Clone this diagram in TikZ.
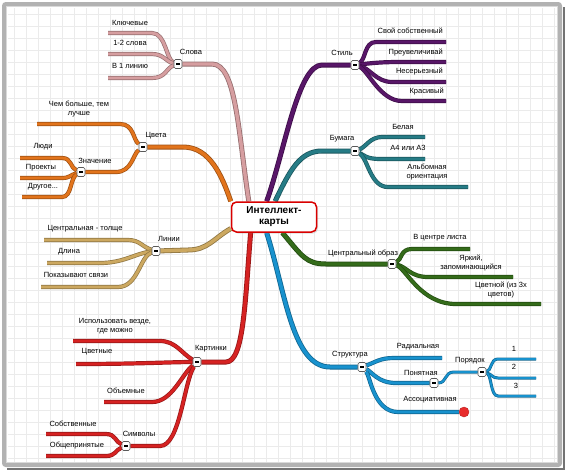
\documentclass[tikz,border=0pt]{standalone}
\usepackage{fontspec}
\setmainfont{Liberation Sans}
\usepackage{tikz}
\usetikzlibrary{shadows}
\usepackage{xcolor}
\definecolor{mmpink}{RGB}{214,158,160}
\definecolor{mmorange}{RGB}{226,116,28}
\definecolor{mmgold}{RGB}{204,168,96}
\definecolor{mmred}{RGB}{214,34,34}
\definecolor{mmpurple}{RGB}{88,22,104}
\definecolor{mmteal}{RGB}{38,124,134}
\definecolor{mmgreen}{RGB}{52,108,26}
\definecolor{mmblue}{RGB}{24,146,206}
\definecolor{mmdot}{RGB}{232,44,44}
\pgfdeclarelayer{grid}
\pgfdeclarelayer{bg}
\pgfsetlayers{grid,bg,main}
\tikzset{
  brmain/.style={draw=#1!70!black, double=#1, line width=0.8pt, double distance=3.4pt},
  brsub/.style={draw=#1!70!black, double=#1, line width=0.7pt, double distance=2.8pt},
  brthin/.style={draw=#1!70!black, double=#1, line width=0.6pt, double distance=1.8pt},
  jn/.style={rectangle, draw=gray!70!black, line width=0.6pt, fill=white, rounded corners=1.5pt, minimum width=8pt, minimum height=9pt, inner sep=0pt},
  lbl/.style={font=\fontsize{7.5}{8.5}\selectfont, text=black, inner sep=0pt, align=center},
  topic/.style={rectangle, rounded corners=5pt, draw=red!85!black, line width=1.5pt, fill=white, minimum width=85pt, minimum height=30pt, align=center, font=\bfseries\fontsize{10}{11}\selectfont, drop shadow={opacity=0.25, shadow xshift=1.5pt, shadow yshift=-1.5pt}}
}
\newcommand{\mns}{\rule{4pt}{1.5pt}}

\begin{document}
\begin{tikzpicture}[x=1pt, y=-1pt]
    \useasboundingbox (0,0) rectangle (567,472);

    % Central topic
    \node[topic] (ctr) at (274,217) {Интеллект-\\карты};

    % Слова
    \node[jn] (jslova) at (178,64) {\mns};
    \coordinate (ekl) at (108,33);
    \coordinate (e12) at (108,54);
    \coordinate (elin) at (108,78);
    \node[lbl] (lslova) at (191,52) {Слова};
    \node[lbl] (lkl) at (130,23) {Ключевые};
    \node[lbl] (l12) at (130,43) {1-2 слова};
    \node[lbl] (llin) at (130,66) {В 1 линию};

    % Цвета
    \node[jn] (jcveta) at (143,147) {\mns};
    \node[jn] (jznach) at (81,172) {\mns};
    \coordinate (echem) at (37,124);
    \coordinate (eludi) at (20,158);
    \coordinate (eproj) at (20,178);
    \coordinate (edrug) at (22,197);
    \node[lbl] (lcveta) at (156,136) {Цвета};
    \node[lbl] (lchem) at (79,109) {Чем больше, тем\\лучше};
    \node[lbl] (lznach) at (95,161) {Значение};
    \node[lbl] (lludi) at (43,147) {Люди};
    \node[lbl] (lproj) at (41,168) {Проекты};
    \node[lbl] (ldrug) at (43,187) {Другое...};

    % Линии
    \node[jn] (jlinii) at (156,251) {\mns};
    \coordinate (ecent) at (44,240);
    \coordinate (edlin) at (47,263);
    \coordinate (esvyaz) at (41,287);
    \node[lbl] (llinii) at (169,239) {Линии};
    \node[lbl] (lcent) at (85,229) {Центральная - толще};
    \node[lbl] (ldlin) at (69,252) {Длина};
    \node[lbl] (lsvyaz) at (76,275) {Показывают связи};

    % Картинки
    \node[jn] (jkart) at (197,362) {\mns};
    \node[jn] (jsimv) at (126,446) {\mns};
    \coordinate (eisp) at (73,341);
    \coordinate (ecvet) at (76,364);
    \coordinate (eob) at (104,402);
    \coordinate (esob) at (46,434);
    \coordinate (eobsh) at (46,456);
    \node[lbl] (lkart) at (211,349) {Картинки};
    \node[lbl] (lisp) at (115,326) {Использовать везде,\\где можно};
    \node[lbl] (lcvet) at (97,352) {Цветные};
    \node[lbl] (lob) at (126,391) {Объемные};
    \node[lbl] (lsimv) at (139,434) {Символы};
    \node[lbl] (lsob) at (73,424) {Собственные};
    \node[lbl] (lobsh) at (77,446) {Общепринятые};

    % Стиль
    \node[jn] (jstil) at (355,65) {\mns};
    \coordinate (esvoi) at (446,42);
    \coordinate (epreuv) at (446,62);
    \coordinate (eneser) at (446,82);
    \coordinate (ekras) at (446,101);
    \node[lbl] (lstil) at (342,53) {Стиль};
    \node[lbl, anchor=east] (lsvoi) at (443,31) {Свой собственный};
    \node[lbl, anchor=east] (lpreuv) at (443,52) {Преувеличивай};
    \node[lbl, anchor=east] (lneser) at (443,71) {Несерьезный};
    \node[lbl, anchor=east] (lkras) at (444,91) {Красивый};

    % Бумага
    \node[jn] (jbum) at (355,151) {\mns};
    \coordinate (ebel) at (425,137);
    \coordinate (ea4) at (425,159);
    \coordinate (ealb) at (468,187);
    \node[lbl] (lbum) at (342,139) {Бумага};
    \node[lbl] (lbel) at (403,127) {Белая};
    \node[lbl] (la4) at (408,148) {А4 или А3};
    \node[lbl] (lalb) at (427,172) {Альбомная\\ориентация};

    % Центральный образ
    \node[jn] (jcobr) at (392,264) {\mns};
    \coordinate (ecentr) at (470,249);
    \coordinate (eyark) at (513,277);
    \coordinate (ecvetn) at (541,304);
    \node[lbl] (lcobr) at (363,253) {Центральный образ};
    \node[lbl] (lcentr) at (440,238) {В центре листа};
    \node[lbl] (lyark) at (471,263) {Яркий,\\запоминающийся};
    \node[lbl] (lcvetn) at (501,290) {Цветной (из 3х\\цветов)};

    % Структура
    \node[jn] (jstr) at (362,367) {\mns};
    \node[jn] (jpon) at (434,383) {\mns};
    \node[jn] (jpor) at (482,372) {\mns};
    \node[circle, fill=mmdot, draw=mmdot!80!black, minimum size=10pt, inner sep=0pt] (dot) at (464,412) {};
    \coordinate (erad) at (442,358);
    \coordinate (e1) at (536,359);
    \coordinate (e2) at (536,378);
    \coordinate (e3) at (536,396);
    \node[lbl] (lstr) at (350,355) {Структура};
    \node[lbl] (lrad) at (418,347) {Радиальная};
    \node[lbl] (lpon) at (421,373) {Понятная};
    \node[lbl] (lass) at (430,400) {Ассоциативная};
    \node[lbl] (lpor) at (470,361) {Порядок};
    \node[lbl] (l1) at (514,349) {1};
    \node[lbl] (l2) at (514,367) {2};
    \node[lbl] (l3) at (516,386) {3};

    \begin{pgfonlayer}{bg}
    % Слова
    \draw[brmain=mmpink] (ctr.148) .. controls (238,130) and (236,64) .. (212,64) -- (jslova);
    \draw[brsub=mmpink] (jslova) .. controls (166,60) and (166,33) .. (152,33) -- (ekl);
    \draw[brsub=mmpink] (jslova) .. controls (166,62) and (164,54) .. (152,54) -- (e12);
    \draw[brsub=mmpink] (jslova) .. controls (166,68) and (166,78) .. (152,78) -- (elin);

    % Цвета
    \draw[brmain=mmorange] (ctr.160) .. controls (222,176) and (210,147) .. (183,147) -- (jcveta);
    \draw[brsub=mmorange] (jcveta) .. controls (133,140) and (134,124) .. (120,124) -- (echem);
    \draw[brsub=mmorange] (jcveta) .. controls (133,154) and (132,172) .. (116,172) -- (jznach);
    \draw[brsub=mmorange] (jznach) .. controls (70,168) and (72,158) .. (62,158) -- (eludi);
    \draw[brsub=mmorange] (jznach) .. controls (70,175) and (70,178) .. (62,178) -- (eproj);
    \draw[brsub=mmorange] (jznach) .. controls (70,178) and (72,197) .. (62,197) -- (edrug);

    % Линии
    \draw[brmain=mmgold] (ctr.195) .. controls (214,238) and (208,250) .. (188,250) -- (jlinii);
    \draw[brsub=mmgold] (jlinii) .. controls (142,247) and (140,240) .. (128,240) -- (ecent);
    \draw[brsub=mmgold] (jlinii) .. controls (136,253) and (124,263) .. (100,263) -- (edlin);
    \draw[brsub=mmgold] (jlinii) .. controls (140,256) and (138,287) .. (118,287) -- (esvyaz);

    % Картинки
    \draw[brmain=mmred] (ctr.214) .. controls (245,300) and (244,362) .. (226,362) -- (jkart);
    \draw[brsub=mmred] (jkart) .. controls (182,354) and (176,341) .. (160,341) -- (eisp);
    \draw[brsub=mmred] (jkart) .. controls (170,362) and (140,364) .. (ecvet);
    \draw[brsub=mmred] (jkart) .. controls (182,374) and (172,402) .. (152,402) -- (eob);
    \draw[brsub=mmred] (jkart) .. controls (184,382) and (180,446) .. (160,446) -- (jsimv);
    \draw[brsub=mmred] (jsimv) .. controls (115,442) and (116,434) .. (106,434) -- (esob);
    \draw[brsub=mmred] (jsimv) .. controls (115,450) and (116,456) .. (106,456) -- (eobsh);

    % Стиль
    \draw[brmain=mmpurple] (ctr.115) .. controls (285,150) and (298,65) .. (322,65) -- (jstil);
    \draw[brsub=mmpurple] (jstil) .. controls (366,60) and (364,42) .. (376,42) -- (esvoi);
    \draw[brsub=mmpurple] (jstil) .. controls (372,63) and (382,62) .. (400,62) -- (epreuv);
    \draw[brsub=mmpurple] (jstil) .. controls (370,68) and (376,82) .. (392,82) -- (eneser);
    \draw[brsub=mmpurple] (jstil) .. controls (368,70) and (380,101) .. (402,101) -- (ekras);

    % Бумага
    \draw[brmain=mmteal] (ctr.86) .. controls (290,170) and (300,151) .. (322,151) -- (jbum);
    \draw[brsub=mmteal] (jbum) .. controls (366,147) and (370,137) .. (382,137) -- (ebel);
    \draw[brsub=mmteal] (jbum) .. controls (364,155) and (366,159) .. (380,159) -- (ea4);
    \draw[brsub=mmteal] (jbum) .. controls (368,158) and (370,187) .. (388,187) -- (ealb);

    % Центральный образ
    \draw[brmain=mmgreen] (ctr.298) .. controls (302,256) and (306,264) .. (326,264) -- (jcobr);
    \draw[brsub=mmgreen] (jcobr) .. controls (402,260) and (400,249) .. (412,249) -- (ecentr);
    \draw[brsub=mmgreen] (jcobr) .. controls (406,266) and (410,277) .. (428,277) -- (eyark);
    \draw[brsub=mmgreen] (jcobr) .. controls (406,268) and (420,304) .. (456,304) -- (ecvetn);

    % Структура
    \draw[brmain=mmblue] (ctr.245) .. controls (285,290) and (292,367) .. (330,367) -- (jstr);
    \draw[brsub=mmblue] (jstr) .. controls (376,362) and (380,358) .. (394,358) -- (erad);
    \draw[brsub=mmblue] (jstr) .. controls (372,372) and (378,383) .. (396,383) -- (jpon);
    \draw[brsub=mmblue] (jstr) .. controls (370,376) and (374,412) .. (398,412) -- (dot);
    \draw[brthin=mmblue] (jpon) .. controls (447,383) and (444,372) .. (454,372) -- (jpor);
    \draw[brthin=mmblue] (jpor) .. controls (492,371) and (490,359) .. (498,359) -- (e1);
    \draw[brthin=mmblue] (jpor) .. controls (492,374) and (492,378) .. (498,378) -- (e2);
    \draw[brthin=mmblue] (jpor) .. controls (492,374) and (490,396) .. (498,396) -- (e3);
    \end{pgfonlayer}

    % Background grid and frame
    \begin{pgfonlayer}{grid}
    \fill[white] (0,0) rectangle (567,472);
    \foreach \gx in {14,26,...,554} \draw[gray!16, line width=0.5pt] (\gx,8) -- (\gx,462);
    \foreach \gy in {14,26,...,460} \draw[gray!16, line width=0.5pt] (8,\gy) -- (557,\gy);
    \draw[black!55, line width=2.5pt] (564,7) -- (564,469) -- (7,469);
    \draw[gray!60, line width=4pt, rounded corners=2pt] (4,4) rectangle (560,465);
    \draw[gray!30, line width=1pt] (6.5,6.5) rectangle (557.5,462.5);
    \end{pgfonlayer}
\end{tikzpicture}
\end{document}
